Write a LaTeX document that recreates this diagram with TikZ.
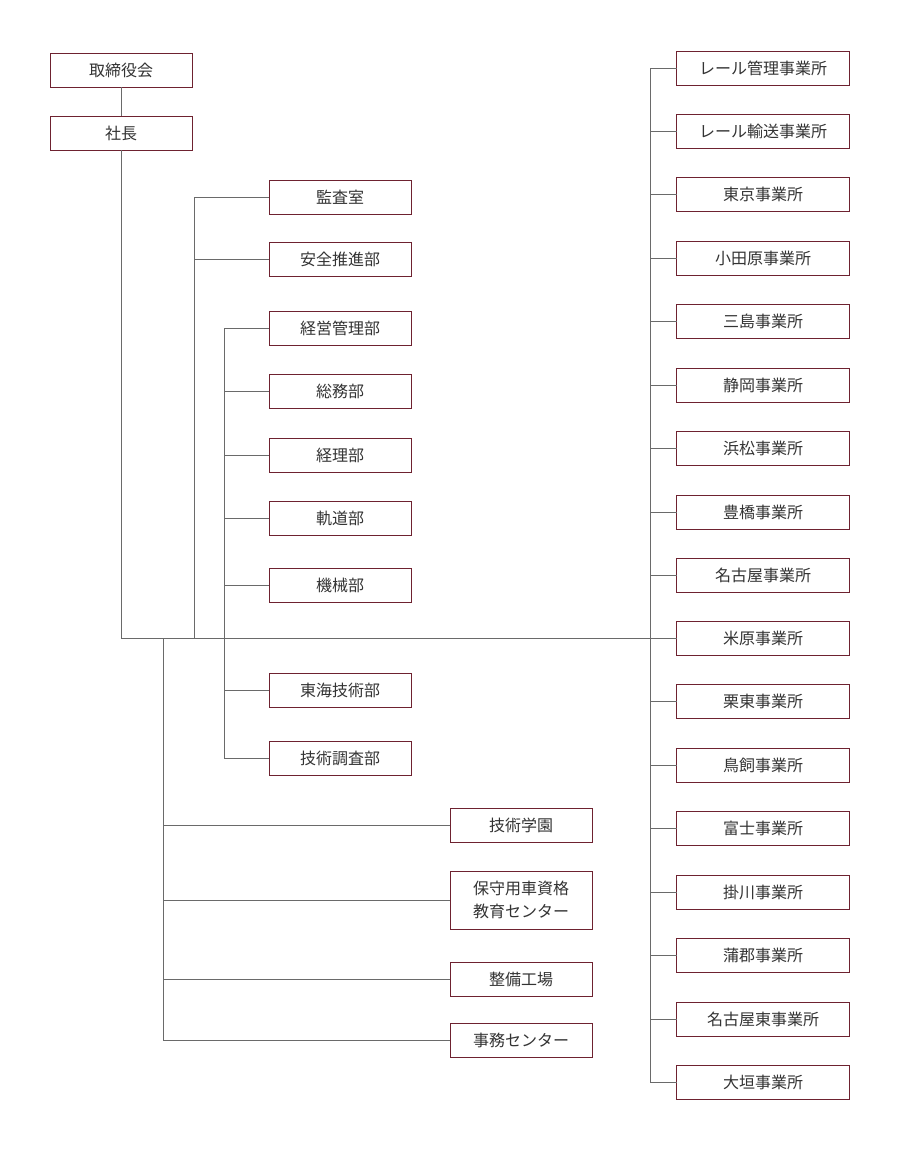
\documentclass[tikz,border=0pt]{standalone}
\usepackage{fontspec}
\newfontfamily\jp{Noto Sans CJK JP}
\definecolor{boxc}{HTML}{6E2230}
\definecolor{linec}{HTML}{6A6A6A}
\definecolor{txt}{HTML}{333333}
\begin{document}
\begin{tikzpicture}[x=0.75pt,y=-0.75pt,
  box/.style={draw=boxc,line width=0.75pt,fill=white,text=txt,inner sep=0pt,outer sep=0pt,
    minimum width=106.5pt,minimum height=25.5pt,align=center,
    font=\jp\fontsize{12}{17}\selectfont},
  wbox/.style={box,minimum width=129.75pt},
  conn/.style={draw=linec,line width=0.75pt}]
\useasboundingbox (0,0) rectangle (900,1150);
% top
\node[box] (torishimari) at (121,70) {取締役会};
\node[box] (shacho) at (121,133) {社長};
% left column
\node[box] (kansa) at (340,197) {監査室};
\node[box] (anzen) at (340,259) {安全推進部};
\node[box] (keiei) at (340,328) {経営管理部};
\node[box] (somu) at (340,391) {総務部};
\node[box] (keiri) at (340,455) {経理部};
\node[box] (kido) at (340,518) {軌道部};
\node[box] (kikai) at (340,585) {機械部};
\node[box] (tokai) at (340,690) {東海技術部};
\node[box] (chosa) at (340,758) {技術調査部};
% middle column
\node[box] (gakuen) at (521,825) {技術学園};
\node[box,minimum height=43.5pt] (hoshu) at (521,900) {保守用車資格\\教育センター};
\node[box] (seibi) at (521,979) {整備工場};
\node[box] (jimu) at (521,1040) {事務センター};
% right column
\node[wbox] (r1) at (763,68) {レール管理事業所};
\node[wbox] (r2) at (763,131) {レール輸送事業所};
\node[wbox] (r3) at (763,194) {東京事業所};
\node[wbox] (r4) at (763,258) {小田原事業所};
\node[wbox] (r5) at (763,321) {三島事業所};
\node[wbox] (r6) at (763,385) {静岡事業所};
\node[wbox] (r7) at (763,448) {浜松事業所};
\node[wbox] (r8) at (763,512) {豊橋事業所};
\node[wbox] (r9) at (763,575) {名古屋事業所};
\node[wbox] (r10) at (763,638) {米原事業所};
\node[wbox] (r11) at (763,701) {栗東事業所};
\node[wbox] (r12) at (763,765) {鳥飼事業所};
\node[wbox] (r13) at (763,828) {富士事業所};
\node[wbox] (r14) at (763,892) {掛川事業所};
\node[wbox] (r15) at (763,955) {蒲郡事業所};
\node[wbox] (r16) at (763,1019) {名古屋東事業所};
\node[wbox] (r17) at (763,1082) {大垣事業所};
% junctions
\coordinate (j0) at (121,638);
\coordinate (jA) at (194,638);
\coordinate (jB) at (224,638);
\coordinate (jC) at (163,638);
\coordinate (jD) at (650,638);
% connectors
\draw[conn] (torishimari) -- (shacho);
\draw[conn] (shacho.south) -- (j0) -- (r10.west);
\foreach \n in {kansa,anzen} \draw[conn] (jA) |- (\n.west);
\foreach \n in {keiei,somu,keiri,kido,kikai,tokai,chosa} \draw[conn] (jB) |- (\n.west);
\foreach \n in {gakuen,hoshu,seibi,jimu} \draw[conn] (jC) |- (\n.west);
\foreach \n in {r1,r2,r3,r4,r5,r6,r7,r8,r9,r11,r12,r13,r14,r15,r16,r17} \draw[conn] (jD) |- (\n.west);
\end{tikzpicture}
\end{document}
